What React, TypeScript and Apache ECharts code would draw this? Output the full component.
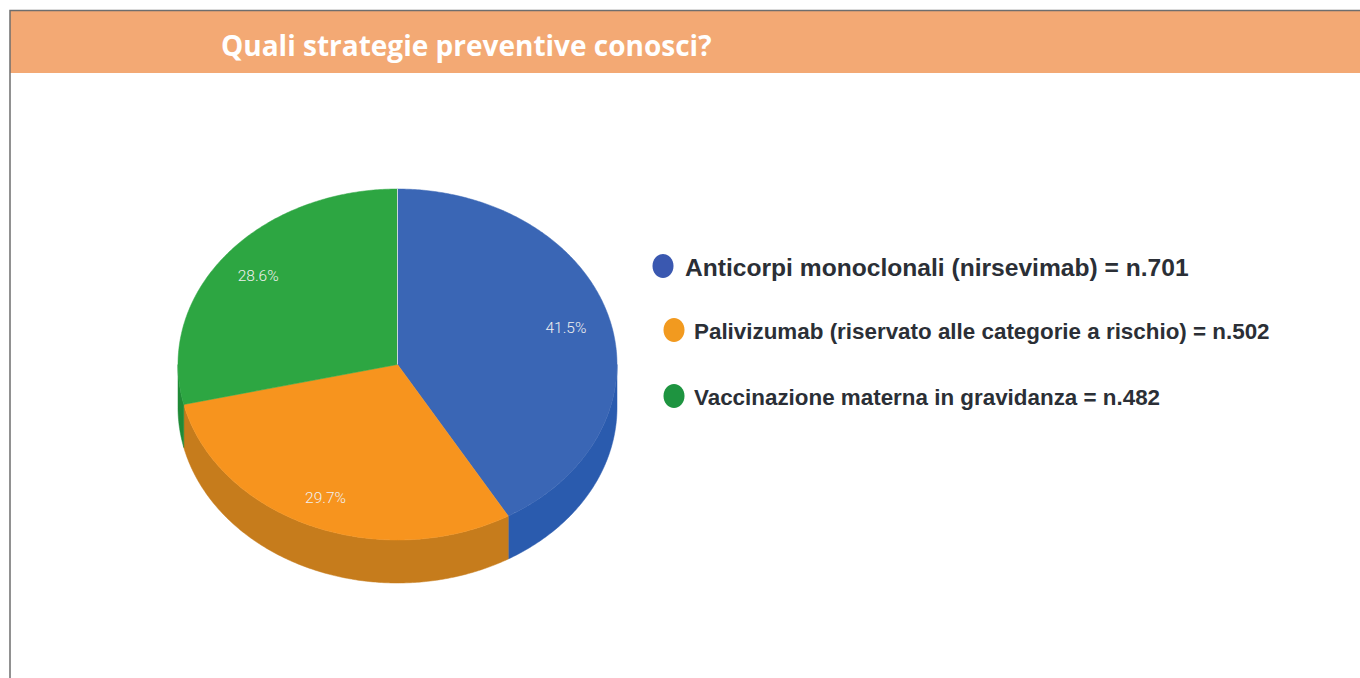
import React, { useEffect, useRef } from "react";
import * as echarts from "echarts";

const titleText = "Quali strategie preventive conosci?";
const categories = [
  "Anticorpi monoclonali (nirsevimab) = n.701",
  "Palivizumab (riservato alle categorie a rischio) = n.502",
  "Vaccinazione materna in gravidanza = n.482",
];
const shares = [41.5, 29.7, 28.6];
const topColors = ["#3A66B5", "#F7941E", "#2DA642"];
const sideColors = ["#2A5BAE", "#C67C1C", "#1F8A36"];
const legendColors = ["#3A58B0", "#F29A1F", "#1E9440"];
const legendDotX = [663, 674, 674];
const legendTextX = [685, 694, 694];
const legendY = [267, 331, 397];
const legendFontSize = [24.6, 22.4, 22.4];
const labelRadius = [0.795, 0.83, 0.81];

const CX = 397.5, CY = 364.5, RX = 219.5, RY = 175.5, DEPTH = 43;
const total = shares.reduce((a, b) => a + b, 0);
const pt = (a: number, dy = 0, k = 1): number[] => [
  CX + RX * k * Math.sin(a),
  CY + dy - RY * k * Math.cos(a),
];
const arcPts = (a0: number, a1: number, dy = 0): number[][] => {
  const n = Math.max(2, Math.ceil(Math.abs(a1 - a0) / 0.01));
  const out: number[][] = [];
  for (let i = 0; i <= n; i++) out.push(pt(a0 + ((a1 - a0) * i) / n, dy));
  return out;
};

export default function App() {
  const ref = useRef<HTMLDivElement>(null);
  useEffect(() => {
    if (!ref.current) return;
    const chart = echarts.init(ref.current, undefined, { renderer: "svg" });
    const renderItem = (params: any, api: any) => {
      const i = params.dataIndex;
      const before = shares.slice(0, i).reduce((a, b) => a + b, 0);
      const a0 = (before / total) * Math.PI * 2;
      const a1 = ((before + Number(api.value(0))) / total) * Math.PI * 2;
      const children: any[] = [];
      // side wall: only the part of the rim facing the viewer
      const s0 = Math.max(a0, Math.PI / 2);
      const s1 = Math.min(a1, (Math.PI * 3) / 2);
      if (s1 > s0) {
        children.push({
          type: "polygon",
          shape: { points: [...arcPts(s0, s1, 0), ...arcPts(s1, s0, DEPTH)] },
          style: { fill: sideColors[i], stroke: sideColors[i], lineWidth: 0.5 },
        });
      }
      children.push({
        type: "polygon",
        shape: { points: [[CX, CY], ...arcPts(a0, a1)] },
        style: { fill: topColors[i], stroke: topColors[i], lineWidth: 0.5 },
      });
      if (i === shares.length - 1) {
        // pale seam where the last slice meets the first one
        const top = pt(0);
        children.push({
          type: "line",
          z2: 5,
          shape: { x1: top[0], y1: top[1], x2: CX, y2: CY },
          style: { stroke: "#C9D6DC", lineWidth: 1 },
        });
      }
      const [lx, ly] = pt((a0 + a1) / 2, 0, labelRadius[i]);
      children.push({
        type: "text",
        z2: 10,
        style: {
          x: lx,
          y: ly,
          text: shares[i].toFixed(1) + "%",
          fill: "#F0F0F0",
          font: '300 15.5px Roboto, "Liberation Sans", sans-serif',
          align: "center",
          verticalAlign: "middle",
        },
      });
      return { type: "group", children };
    };
    const legendGraphics: any[] = [];
    categories.forEach((c, i) => {
      legendGraphics.push({
        type: "ellipse",
        shape: { cx: legendDotX[i], cy: legendY[i] - 1, rx: 10.5, ry: 12 },
        style: { fill: legendColors[i] },
      });
      legendGraphics.push({
        type: "text",
        x: legendTextX[i],
        y: legendY[i],
        style: {
          text: c,
          fill: "#2B2F36",
          font: `bold ${legendFontSize[i]}px "Liberation Sans", Arial, sans-serif`,
          verticalAlign: "middle",
        },
      });
    });
    chart.setOption({
      animation: false,
      backgroundColor: "#FFFFFF",
      graphic: [
        {
          type: "rect",
          shape: { x: 10, y: 10, width: 1350, height: 63 },
          style: { fill: "#F3A974" },
        },
        {
          type: "polyline",
          shape: { points: [[10, 678], [10, 10.5], [1360, 10.5]] },
          style: { fill: "none", stroke: "#6E6E6E", lineWidth: 1.5 },
        },
        {
          type: "text",
          x: 221,
          y: 45,
          style: {
            text: titleText,
            fill: "#FFFFFF",
            font: 'bold 28px "Open Sans", "Noto Sans", sans-serif',
            verticalAlign: "middle",
          },
        },
        ...legendGraphics,
      ],
      series: [
        {
          type: "custom",
          coordinateSystem: "none",
          renderItem,
          data: shares.map((v, i) => ({ name: categories[i], value: [v] })),
        },
      ],
    });
    return () => chart.dispose();
  }, []);
  return (
    <div
      ref={ref}
      style={{ position: "absolute", left: 0, top: 0, width: 1360, height: 678 }}
    />
  );
}
